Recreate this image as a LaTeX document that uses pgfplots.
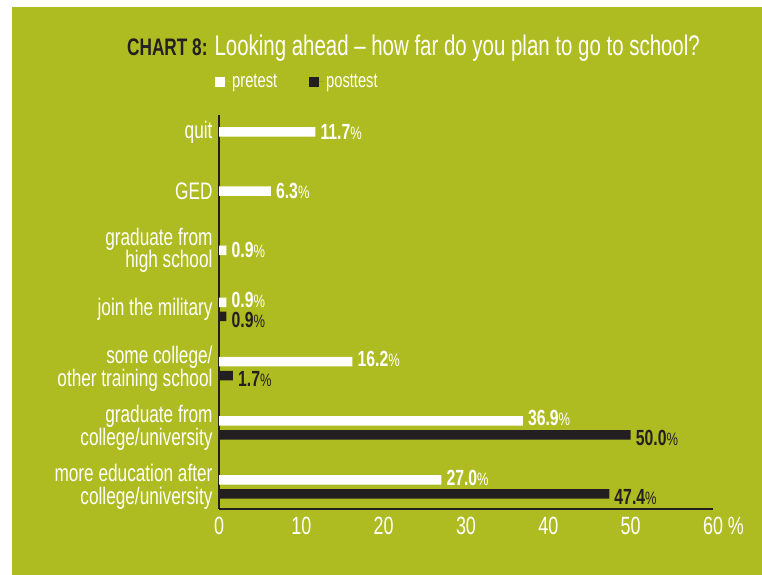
\documentclass[border=0pt]{standalone}
\usepackage{pgfplots}
\pgfplotsset{compat=1.18}
\usepackage{fontspec}
\setmainfont{Liberation Sans}[FakeStretch=0.72]

\definecolor{bggreen}{RGB}{175,188,33}
\definecolor{dark}{RGB}{35,31,32}

\newcommand{\fs}[1]{\fontsize{#1}{#1}\selectfont}

\begin{document}
\begin{tikzpicture}
\useasboundingbox (0,0) rectangle (762bp,575bp);
\fill[white] (0,0) rectangle (762bp,575bp);
\fill[bggreen] (12bp,0) rectangle (762bp,568bp);

\node[anchor=base west, inner sep=0pt] at (127bp,519bp)
  {{\fs{24}\bfseries\color{dark}CHART 8:}\hspace{7bp}{\fs{28.5}\color{white}Looking ahead -- how far do you plan to go to school?}};

\begin{axis}[
  at={(219bp,66bp)}, anchor=south west,
  scale only axis, width=494bp, height=394bp,
  xbar, bar width=9.5bp,
  xmin=0, xmax=60, ymin=-0.372, ymax=6.287,
  enlargelimits=false, clip=false,
  axis x line=bottom, axis y line=left,
  axis line style={draw=dark, line width=1.4bp, -},
  major tick length=0pt,
  xtick={0,10,...,60},
  xticklabels={0,10,20,30,40,50,60\rlap{ \%}},
  xticklabel style={font=\fs{25}, text=white, yshift=-5bp},
  ytick={0,...,6},
  yticklabels={more education after\\college/university,
               graduate from\\college/university,
               some college/\\other training school,
               join the military,
               graduate from\\high school,
               GED, quit},
  yticklabel style={font=\fontsize{24}{23}\selectfont, text=white, align=right, xshift=-3bp},
  /pgf/number format/assume math mode=true,
  nodes near coords={\textbf{\pgfmathprintnumber[fixed,fixed zerofill,precision=1]{\pgfplotspointmeta}}{\fs{18}\%}},
  every node near coord/.append style={font=\fs{22}, inner xsep=5bp, inner ysep=0pt},
  legend columns=2,
  legend style={at={(-0.008,1.084)}, anchor=west, draw=none, fill=none,
    inner sep=0pt, font=\fs{20.5}, text=white,
    /tikz/every even column/.append style={column sep=30bp}},
  legend image code/.code={\fill[#1] (0bp,-5bp) rectangle (10bp,5bp); \path (0bp,0bp) -- (15bp,0bp);},
]
% pretest, categories with two bars
\addplot[fill=white, draw=none, bar shift=7bp,
  every node near coord/.append style={text=white, yshift=2.5bp}] coordinates {
  (0.9,3) (16.2,2) (36.9,1) (27.0,0)
};
% posttest
\addplot[fill=dark, draw=none, bar shift=-7bp,
  every node near coord/.append style={text=dark, yshift=-3.5bp}] coordinates {
  (0.9,3) (1.7,2) (50.0,1) (47.4,0)
};
% pretest, categories with one bar
\addplot[fill=white, draw=none, bar shift=0bp, forget plot,
  every node near coord/.append style={text=white}] coordinates {
  (11.7,6) (6.3,5) (0.9,4)
};
\legend{pretest, posttest}
\end{axis}
\end{tikzpicture}
\end{document}
